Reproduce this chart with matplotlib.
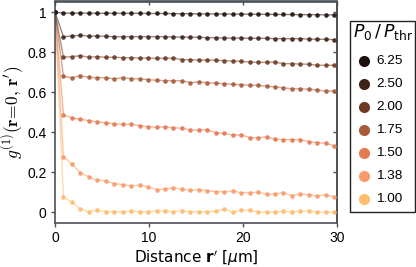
import numpy as np
import matplotlib
matplotlib.use("Agg")
import matplotlib.pyplot as plt
from matplotlib.patches import Rectangle
from matplotlib.lines import Line2D

# distance r' in um (pixel pitch 0.9 um)
distance = np.arange(34) * 0.9

labels = ["6.25", "2.50", "2.00", "1.75", "1.50", "1.38", "1.00"]
colors = ["#1d100c", "#3e2218", "#6d3922", "#a85a38", "#e47a52", "#f99a68", "#fdbd6c"]

g_625 = [1.0, 0.996, 0.996, 0.996, 0.996, 0.995, 0.995, 0.995, 0.995, 0.995, 0.995, 0.994,
         0.994, 0.994, 0.993, 0.993, 0.993, 0.992, 0.992, 0.992, 0.991, 0.991, 0.991, 0.990,
         0.990, 0.990, 0.989, 0.989, 0.989, 0.988, 0.988, 0.988, 0.987, 0.987]
g_250 = [1.0, 0.878, 0.881, 0.885, 0.881, 0.881, 0.880, 0.878, 0.878, 0.878, 0.878, 0.878,
         0.878, 0.878, 0.876, 0.876, 0.875, 0.875, 0.873, 0.873, 0.871, 0.871, 0.871, 0.870,
         0.870, 0.870, 0.868, 0.868, 0.868, 0.868, 0.866, 0.865, 0.865, 0.863]
g_200 = [1.0, 0.775, 0.778, 0.783, 0.775, 0.778, 0.775, 0.775, 0.773, 0.773, 0.771, 0.771,
         0.770, 0.770, 0.771, 0.763, 0.763, 0.761, 0.761, 0.760, 0.758, 0.756, 0.755, 0.751,
         0.750, 0.750, 0.751, 0.743, 0.743, 0.741, 0.740, 0.735, 0.735, 0.735]
g_175 = [1.0, 0.680, 0.673, 0.683, 0.675, 0.673, 0.673, 0.667, 0.673, 0.668, 0.667, 0.663,
         0.660, 0.658, 0.658, 0.657, 0.648, 0.652, 0.648, 0.645, 0.643, 0.640, 0.638, 0.635,
         0.635, 0.630, 0.627, 0.622, 0.618, 0.617, 0.615, 0.612, 0.605, 0.607]
g_150 = [1.0, 0.487, 0.472, 0.465, 0.458, 0.452, 0.447, 0.442, 0.440, 0.440, 0.433, 0.427,
         0.425, 0.427, 0.422, 0.420, 0.412, 0.410, 0.413, 0.397, 0.395, 0.385, 0.387, 0.373,
         0.373, 0.377, 0.365, 0.363, 0.363, 0.363, 0.353, 0.348, 0.345, 0.332]
g_138 = [1.0, 0.278, 0.242, 0.195, 0.178, 0.160, 0.157, 0.143, 0.138, 0.132, 0.135, 0.128,
         0.113, 0.115, 0.122, 0.115, 0.110, 0.113, 0.108, 0.103, 0.102, 0.107, 0.097, 0.098,
         0.100, 0.090, 0.092, 0.098, 0.083, 0.092, 0.087, 0.082, 0.087, 0.078]
g_100 = [1.0, 0.075, 0.050, 0.017, 0.003, 0.010, 0.003, 0.003, 0.002, 0.007, 0.002, 0.002,
         0.007, 0.007, 0.003, 0.007, 0.002, 0.003, 0.002, 0.005, 0.015, 0.002, 0.010, 0.010,
         0.000, 0.000, 0.000, 0.005, 0.002, 0.005, 0.007, 0.000, 0.000, 0.000]
series = [g_625, g_250, g_200, g_175, g_150, g_138, g_100]

plt.rcParams['font.family'] = ['Liberation Sans', 'DejaVu Sans']
spine_col = "#4a5058"
W, H = 416, 267

fig = plt.figure(figsize=(W / 100, H / 100), dpi=100)
ax = fig.add_axes([55 / W, 44 / H, 282 / W, 221.5 / H])

# draw lightest first so dark curves end up on top
for g, c in reversed(list(zip(series, colors))):
    ax.plot(distance, g, color=c, alpha=0.55, lw=1.0, zorder=2)
    ax.plot(distance, g, 'o', color=c, ms=3.3, mec='none', alpha=0.9, zorder=3)

ax.set_xlim(0, 30)
ax.set_ylim(-0.054, 1.054)
ax.set_xticks([0, 10, 20, 30])
ax.set_yticks([0, 0.2, 0.4, 0.6, 0.8, 1])
ax.set_yticklabels(["0", "0.2", "0.4", "0.6", "0.8", "1"])
ax.tick_params(direction='out', length=3, width=1, color=spine_col, labelsize=10, pad=3)
for s in ax.spines.values():
    s.set_color(spine_col)
    s.set_linewidth(1.2)

sec_x = ax.secondary_xaxis('top')
sec_x.set_xticks([0, 10, 20, 30])
sec_x.tick_params(direction='in', length=3, width=1, color=spine_col, labeltop=False)
sec_y = ax.secondary_yaxis('right')
sec_y.set_yticks([0, 0.2, 0.4, 0.6, 0.8, 1])
sec_y.tick_params(direction='in', length=3, width=1, color=spine_col, labelright=False)
for sa in (sec_x, sec_y):
    for s in sa.spines.values():
        s.set_color(spine_col)
        s.set_linewidth(1.2)

ax.set_xlabel(r"Distance $\mathbf{r}'$ $[\mu\mathrm{m}]$", fontsize=11, family='DejaVu Sans',
              math_fontfamily='dejavusans', labelpad=2)
ax.set_ylabel(r"$g^{(1)}(\mathbf{r}\!=\!\mathbf{0},\,\mathbf{r}')$", fontsize=12.5,
              math_fontfamily='cm')
ax.yaxis.set_label_coords(-0.102, 0.5)

# legend box drawn by hand (pixel layout, top-left origin)
def fx(px):
    return px / W

def fy(py):
    return 1 - py / H

fig.patches.append(Rectangle((fx(349.5), fy(212)), (415 - 349.5) / W, (212 - 20.5) / H,
                             transform=fig.transFigure, fill=False, ec="#222222", lw=1.0))
fig.text(fx(383), fy(31.5), r"$P_0\,/\,P_{\mathrm{thr}}$", ha='center', va='center',
         fontsize=12.5, math_fontfamily='dejavusans')
for i, (lab, c) in enumerate(zip(labels, colors)):
    yy = 61 + i * 23
    fig.lines.append(Line2D([fx(364)], [fy(yy)], transform=fig.transFigure, ls='none',
                            marker='o', ms=8, color=c, mec='none'))
    fig.text(fx(376.5), fy(yy), lab, ha='left', va='center', fontsize=9.7)

fig.savefig("out.png", dpi=100)
